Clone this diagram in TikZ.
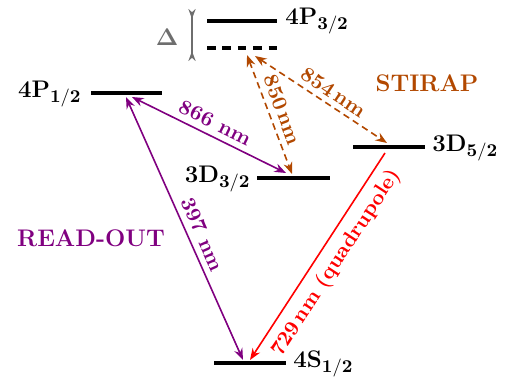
\documentclass[tikz,border=0pt]{standalone}
\usetikzlibrary{arrows.meta}
\definecolor{rpurple}{RGB}{128,0,128}
\definecolor{rbrown}{RGB}{178,72,0}
\definecolor{rgray}{RGB}{110,110,110}
\tikzset{tp/.tip={Stealth[length=5.8pt,width=4.4pt,inset=1.9pt]},
  dtp/.tip={Stealth[reversed,length=5pt,width=3.6pt,inset=1.6pt]}}
\begin{document}
\begin{tikzpicture}[x=0.5pt,y=-0.5pt,
  font=\fontsize{12}{14}\selectfont\bfseries,
  lvl/.style={line width=1.75pt},
  lvltxt/.style={font=\fontsize{13}{15}\selectfont, inner sep=1pt},
  trans/.style={line width=0.8pt},
  lbl/.style={font=\fontsize{10.5}{12}\selectfont\bfseries, inner sep=1pt},
  dsh/.style={dash pattern=on 3.3pt off 2.2pt}]
\useasboundingbox (0,0) rectangle (508,379);
% level end points
\coordinate (P32w) at (207,21);  \coordinate (P32e) at (277,21);
\coordinate (Vw) at (207,48);    \coordinate (Ve) at (278,48);
\coordinate (P12w) at (91,93);   \coordinate (P12e) at (162,93);
\coordinate (D32w) at (257,178); \coordinate (D32e) at (330,178);
\coordinate (D52w) at (353,147); \coordinate (D52e) at (425,147);
\coordinate (S12w) at (214,363); \coordinate (S12e) at (286,363);
% levels
\draw[lvl] (P32w) -- (P32e);
\draw[lvl, dash pattern=on 4.3pt off 3.4pt] (Vw) -- (Ve);
\draw[lvl] (P12w) -- (P12e);
\draw[lvl] (D32w) -- (D32e);
\draw[lvl] (D52w) -- (D52e);
\draw[lvl] (S12w) -- (S12e);
% level labels
\node[lvltxt, anchor=west] (tP32) at (283,21) {$\mathbf{4P}_{\mathbf{3/2}}$};
\node[lvltxt, anchor=east] (tP12) at (84,94) {$\mathbf{4P}_{\mathbf{1/2}}$};
\node[lvltxt, anchor=east] (tD32) at (253,179) {$\mathbf{3D}_{\mathbf{3/2}}$};
\node[lvltxt, anchor=west] (tD52) at (430,148) {$\mathbf{3D}_{\mathbf{5/2}}$};
\node[lvltxt, anchor=west] (tS12) at (291,364) {$\mathbf{4S}_{\mathbf{1/2}}$};
% detuning
\coordinate (dT) at (192,9); \coordinate (dB) at (192,61);
\draw[rgray, trans, {dtp}-{dtp}] (dT) -- (dB);
\node[rgray, font=\fontsize{13}{15}\selectfont] (tDelta) at (167,37) {$\mathbf{\Delta}$};
% transition end points
\coordinate (a866u) at (132,97);  \coordinate (a866d) at (286,173);
\coordinate (a397u) at (126,97);  \coordinate (a397d) at (243,360);
\coordinate (a850u) at (247,55);  \coordinate (a850d) at (292,174);
\coordinate (a854u) at (255,56);  \coordinate (a854d) at (387,143);
\coordinate (a729u) at (385,153); \coordinate (a729d) at (250,360);
% transitions
\draw[rpurple, trans, {tp}-{tp}] (a866u) -- node[lbl, sloped, above=2pt] {866 nm} (a866d);
\draw[rpurple, trans, {tp}-{tp}] (a397u) -- node[lbl, pos=0.545, sloped, above=2pt] {397 nm} (a397d);
\draw[rbrown, trans, dsh, {tp}-{tp}] (a850u) -- node[lbl, sloped, above=2pt] {850\,nm} (a850d);
\draw[rbrown, trans, dsh, {tp}-{tp}] (a854u) -- node[lbl, pos=0.54, sloped, above=1.5pt] {854\,nm} (a854d);
\draw[red, trans, -{tp}] (a729u) -- node[lbl, pos=0.48, sloped, below=3pt] {729\,nm (quadrupole)} (a729d);
% scheme labels
\node[rbrown] (tStirap) at (427,83) {STIRAP};
\node[rpurple] (tRead) at (91,238) {READ-OUT};
\end{tikzpicture}
\end{document}
